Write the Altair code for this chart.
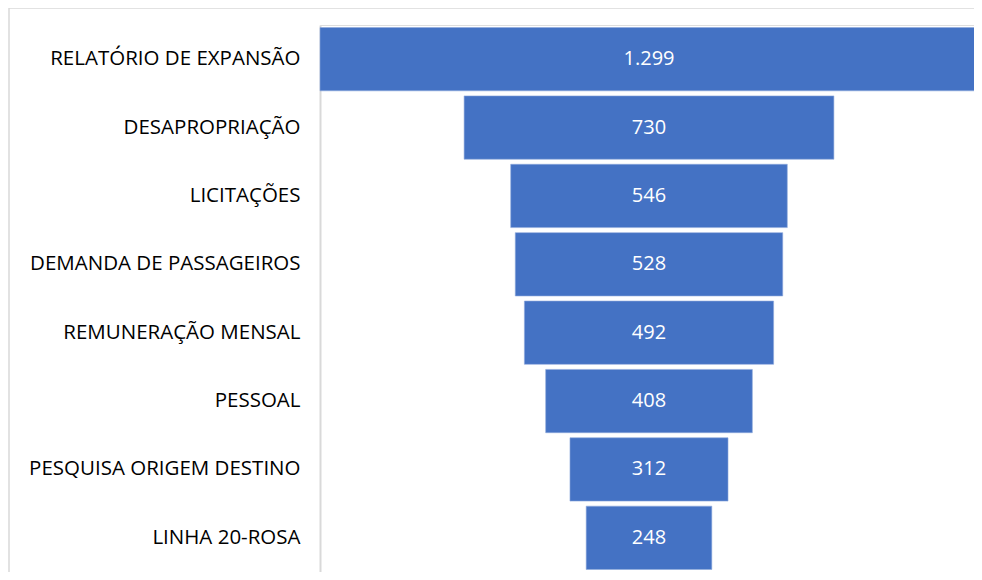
import altair as alt
import pandas as pd

categories = [
    "RELATÓRIO DE EXPANSÃO",
    "DESAPROPRIAÇÃO",
    "LICITAÇÕES",
    "DEMANDA DE PASSAGEIROS",
    "REMUNERAÇÃO MENSAL",
    "PESSOAL",
    "PESQUISA ORIGEM DESTINO",
    "LINHA 20-ROSA",
]
values = [1299, 730, 546, 528, 492, 408, 312, 248]

df = pd.DataFrame({"cat": categories, "v": values})
df["lo"] = -df["v"] / 2
df["hi"] = df["v"] / 2
df["label"] = [f"{v:,}".replace(",", ".") for v in values]

FONT = "Open Sans"
half = max(values) / 2
# plot is 654 px wide while the widest bar needs 658 px: its right end is cut by 4 px
PLOT_W = 654
px_per_unit = 658 / max(values)
x_max = (PLOT_W / px_per_unit) - half

yenc = alt.Y(
    "cat:N",
    sort=categories,
    scale=alt.Scale(paddingInner=0.074, paddingOuter=0.037),
    axis=alt.Axis(
        title=None,
        ticks=False,
        domain=True,
        domainColor="#d9d9d9",
        domainWidth=2,
        labelFont=FONT,
        labelFontSize=20.5,
        labelColor="#000000",
        labelPadding=20,
        labelLimit=400,
    ),
)
xscale = alt.Scale(domain=[-half, x_max], nice=False, zero=False)

bars = alt.Chart(df).mark_bar(color="#4472C4", stroke="#8faadc", strokeWidth=0.6).encode(
    y=yenc,
    x=alt.X("lo:Q", scale=xscale, axis=None),
    x2="hi:Q",
)

text = alt.Chart(df).mark_text(color="white", font=FONT, fontSize=20, baseline="middle").encode(
    y=alt.Y("cat:N", sort=categories),
    x=alt.datum(0),
    text="label:N",
)

frame = alt.Chart(pd.DataFrame({"a": [0]})).mark_rect(
    fill=None, stroke="#d9d9d9", strokeWidth=1.5
).encode(
    x=alt.value(-311),
    x2=alt.value(700),
    y=alt.value(-17),
    y2=alt.value(600),
)

chart = (
    alt.layer(frame, bars, text)
    .properties(
        width=PLOT_W,
        height=547,
        padding={"left": 312, "top": 17, "right": 0, "bottom": 0},
        autosize=alt.AutoSizeParams(type="none"),
    )
    .configure_view(stroke=None)
    .configure(background="white")
)

chart.save("out.html", embed_options={"renderer": "svg", "actions": False})
